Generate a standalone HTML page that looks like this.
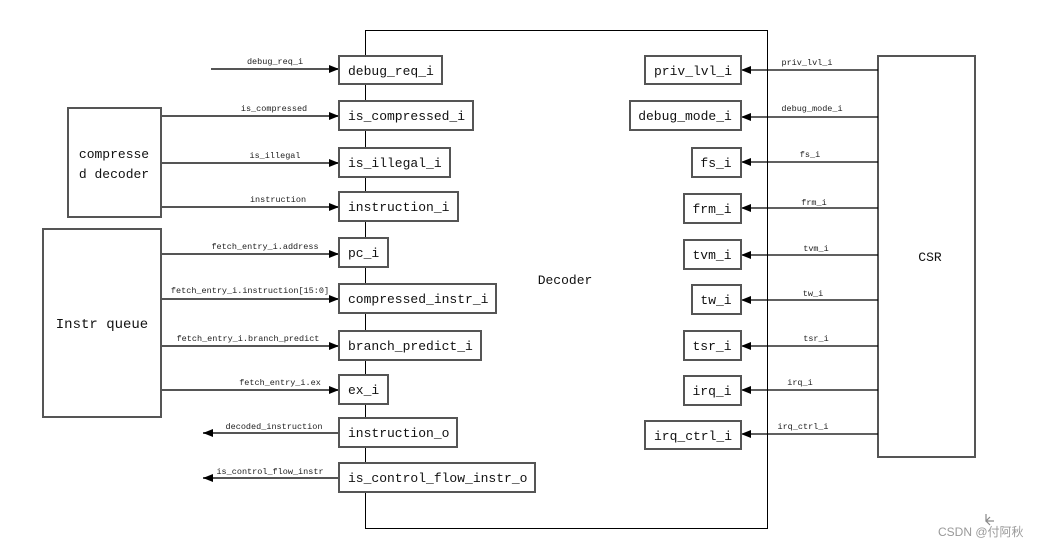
<!DOCTYPE html>
<html><head><meta charset="utf-8"><style>
html,body{margin:0;padding:0;background:#fff;width:1053px;height:548px;overflow:hidden}
svg{display:block}
.b{fill:#fff;stroke:#555;stroke-width:2}
.t{font-family:"Liberation Mono",monospace;font-size:13px;fill:#111}
.s{font-family:"Liberation Mono",monospace;font-size:8.5px;fill:#222}
.l{stroke:#555;stroke-width:2}
.k{stroke:#000;stroke-width:1.2}
</style></head><body>
<svg width="1053" height="548" xmlns="http://www.w3.org/2000/svg">
<defs>
<marker id="a" markerWidth="10" markerHeight="8" refX="10" refY="4" orient="auto" markerUnits="userSpaceOnUse"><path d="M0,0 L10,4 L0,8 z" fill="#000"/></marker>
</defs>
<rect x="365.5" y="30.5" width="402" height="498" fill="#fff" stroke="#000" stroke-width="1"/>
<text x="565" y="284" class="t" text-anchor="middle">Decoder</text>
<rect x="68" y="108" width="93" height="109" class="b" stroke="#333"/>
<text x="114" y="158" class="t" text-anchor="middle">compresse</text>
<text x="114" y="178" class="t" text-anchor="middle">d decoder</text>
<rect x="43" y="229" width="118" height="188" class="b" stroke="#222"/>
<text x="102" y="328" class="t" text-anchor="middle" style="font-size:14px">Instr queue</text>
<rect x="878" y="56" width="97" height="401" class="b"/>
<text x="930" y="261" class="t" text-anchor="middle">CSR</text>

<!-- left inputs -->
<line x1="211" y1="69" x2="339" y2="69" class="l" marker-end="url(#a)"/>
<text x="275" y="64" class="s" text-anchor="middle">debug_req_i</text>
<line x1="161" y1="116" x2="339" y2="116" class="l" marker-end="url(#a)"/>
<text x="274" y="111" class="s" text-anchor="middle">is_compressed</text>
<line x1="161" y1="163" x2="339" y2="163" class="l" marker-end="url(#a)"/>
<text x="275" y="158" class="s" text-anchor="middle">is_illegal</text>
<line x1="161" y1="207" x2="339" y2="207" class="l" marker-end="url(#a)"/>
<text x="278" y="202" class="s" text-anchor="middle">instruction</text>
<line x1="161" y1="254" x2="339" y2="254" class="l" marker-end="url(#a)"/>
<text x="265" y="249" class="s" text-anchor="middle">fetch_entry_i.address</text>
<line x1="161" y1="299" x2="339" y2="299" class="l" marker-end="url(#a)"/>
<text x="250" y="293" class="s" text-anchor="middle">fetch_entry_i.instruction[15:0]</text>
<line x1="161" y1="346" x2="339" y2="346" class="l" marker-end="url(#a)"/>
<text x="248" y="341" class="s" text-anchor="middle">fetch_entry_i.branch_predict</text>
<line x1="161" y1="390" x2="339" y2="390" class="l" marker-end="url(#a)"/>
<text x="280" y="385" class="s" text-anchor="middle">fetch_entry_i.ex</text>
<line x1="339" y1="433" x2="203" y2="433" class="l" marker-end="url(#a)"/>
<text x="274" y="429" class="s" text-anchor="middle">decoded_instruction</text>
<line x1="339" y1="478" x2="203" y2="478" class="l" marker-end="url(#a)"/>
<text x="270" y="474" class="s" text-anchor="middle">is_control_flow_instr</text>

<!-- left boxes -->
<rect x="339" y="56" width="103" height="28" class="b"/><text x="348" y="75" class="t">debug_req_i</text>
<rect x="339" y="101" width="134" height="29" class="b"/><text x="348" y="120" class="t">is_compressed_i</text>
<rect x="339" y="148" width="111" height="29" class="b"/><text x="348" y="167" class="t">is_illegal_i</text>
<rect x="339" y="192" width="119" height="29" class="b"/><text x="348" y="211" class="t">instruction_i</text>
<rect x="339" y="238" width="49" height="29" class="b"/><text x="348" y="257" class="t">pc_i</text>
<rect x="339" y="284" width="157" height="29" class="b"/><text x="348" y="303" class="t">compressed_instr_i</text>
<rect x="339" y="331" width="142" height="29" class="b"/><text x="348" y="350" class="t">branch_predict_i</text>
<rect x="339" y="375" width="49" height="29" class="b"/><text x="348" y="394" class="t">ex_i</text>
<rect x="339" y="418" width="118" height="29" class="b"/><text x="348" y="437" class="t">instruction_o</text>
<rect x="339" y="463" width="196" height="29" class="b"/><text x="348" y="482" class="t">is_control_flow_instr_o</text>

<!-- right connections -->
<g class="k">
<line x1="878" y1="70" x2="741" y2="70" marker-end="url(#a)"/>
<line x1="878" y1="117" x2="741" y2="117" marker-end="url(#a)"/>
<line x1="878" y1="162" x2="741" y2="162" marker-end="url(#a)"/>
<line x1="878" y1="208" x2="741" y2="208" marker-end="url(#a)"/>
<line x1="878" y1="255" x2="741" y2="255" marker-end="url(#a)"/>
<line x1="878" y1="300" x2="741" y2="300" marker-end="url(#a)"/>
<line x1="878" y1="346" x2="741" y2="346" marker-end="url(#a)"/>
<line x1="878" y1="390" x2="741" y2="390" marker-end="url(#a)"/>
<line x1="878" y1="434" x2="741" y2="434" marker-end="url(#a)"/>
</g>
<text x="807" y="65" class="s" text-anchor="middle">priv_lvl_i</text>
<text x="812" y="111" class="s" text-anchor="middle">debug_mode_i</text>
<text x="810" y="157" class="s" text-anchor="middle">fs_i</text>
<text x="814" y="205" class="s" text-anchor="middle">frm_i</text>
<text x="816" y="251" class="s" text-anchor="middle">tvm_i</text>
<text x="813" y="296" class="s" text-anchor="middle">tw_i</text>
<text x="816" y="341" class="s" text-anchor="middle">tsr_i</text>
<text x="800" y="385" class="s" text-anchor="middle">irq_i</text>
<text x="803" y="429" class="s" text-anchor="middle">irq_ctrl_i</text>

<rect x="645" y="56" width="96" height="28" class="b"/><text x="693" y="75" class="t" text-anchor="middle">priv_lvl_i</text>
<rect x="630" y="101" width="111" height="29" class="b"/><text x="685" y="120" class="t" text-anchor="middle">debug_mode_i</text>
<rect x="692" y="148" width="49" height="29" class="b"/><text x="716" y="167" class="t" text-anchor="middle">fs_i</text>
<rect x="684" y="194" width="57" height="29" class="b"/><text x="712" y="213" class="t" text-anchor="middle">frm_i</text>
<rect x="684" y="240" width="57" height="29" class="b"/><text x="712" y="259" class="t" text-anchor="middle">tvm_i</text>
<rect x="692" y="285" width="49" height="29" class="b"/><text x="716" y="304" class="t" text-anchor="middle">tw_i</text>
<rect x="684" y="331" width="57" height="29" class="b"/><text x="712" y="350" class="t" text-anchor="middle">tsr_i</text>
<rect x="684" y="376" width="57" height="29" class="b"/><text x="712" y="395" class="t" text-anchor="middle">irq_i</text>
<rect x="645" y="421" width="96" height="28" class="b"/><text x="693" y="440" class="t" text-anchor="middle">irq_ctrl_i</text>

<path d="M986,514 L986,521 L994,521 M990,517 L986,521 L990,525" stroke="#888" fill="none" stroke-width="1.2"/>
<text x="938" y="536" style="font-family:'Liberation Sans','Noto Sans CJK SC',sans-serif;font-size:12px;fill:#999">CSDN @付阿秋</text>
</svg>
</body></html>
